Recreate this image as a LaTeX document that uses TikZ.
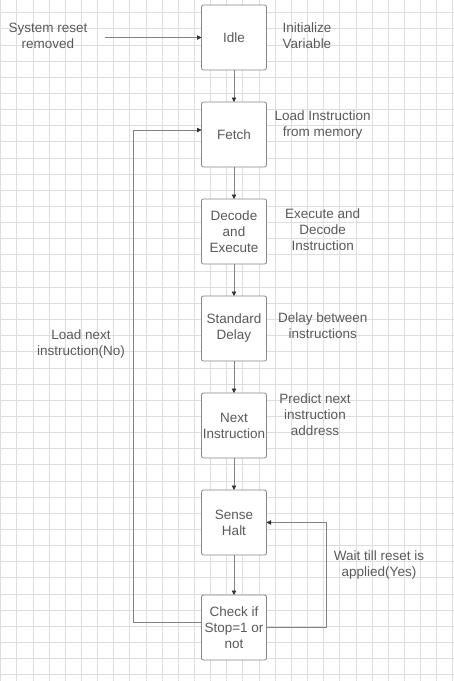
\documentclass[tikz,border=0pt]{standalone}
\usepackage{fontspec}
\setmainfont{Liberation Sans}
\usetikzlibrary{positioning,arrows.meta}
\definecolor{txtgray}{RGB}{90,90,90}
\definecolor{boxgray}{RGB}{135,135,135}
\definecolor{linegray}{RGB}{130,130,130}
\definecolor{headgray}{RGB}{50,50,50}
\definecolor{gridgray}{RGB}{222,222,222}

\begin{document}
\begin{tikzpicture}[x=1pt,y=1pt, line width=.8pt
  ]
% Styles
\tikzstyle{state}=[draw=boxgray,fill=white,rounded corners=2pt,minimum width=65pt,minimum height=65pt,inner sep=1pt,outer sep=0pt,align=center,text=txtgray,font=\fontsize{13.5}{16}\selectfont]
\tikzstyle{note}=[align=center,inner sep=0pt,text=txtgray,font=\fontsize{13.5}{16}\selectfont]
\tikzstyle{flow}=[draw=linegray,-{Triangle[length=4.5pt,width=4.5pt,color=headgray]}]
\tikzstyle{gridline}=[draw=gridgray,line width=.6pt]

\useasboundingbox[fill=white] (0,0) rectangle (454,-681);
% Background grid
\foreach \i in {0,...,28}
\draw[gridline] ({0.5+16.15*\i},0)--({0.5+16.15*\i},-681);
\foreach \j in {0,...,41}
\draw[gridline] (0,{-12.5-16.15*\j})--(454,{-12.5-16.15*\j});

% States
\node[state] (idle) at (234,-37.5) {Idle};
\node[state, below=32pt of idle] (fetch) {Fetch};
\node[state, below=32pt of fetch] (dec) {Decode\\and\\Execute};
\node[state, below=32pt of dec] (dly) {Standard\\Delay};
\node[state, below=32pt of dly] (nxt) {Next\\Instruction};
\node[state, below=32pt of nxt] (halt) {Sense\\Halt};
\node[state, below=40pt of halt] (chk) {Check if\\Stop=1 or\\not};

% Notes
\node[note] (rst) at (48,-36) {System reset\\removed};
\node[note] (init) at (307,-36) {Initialize\\Variable};
\node[note] (load) at (322.7,-125) {Load Instruction\\from memory};
\node[note] (exe) at (322.7,-230) {Execute and\\Decode\\Instruction};
\node[note] (dbi) at (322.7,-326) {Delay between\\instructions};
\node[note] (pred) at (315,-415) {Predict next\\instruction\\address};
\node[note] (wait) at (379,-565) {Wait till reset is\\applied(Yes)};
\node[note] (lnx) at (81,-344) {Load next\\instruction(No)};

% Connectors
\coordinate (src) at (105,-37.5);
\coordinate (lft) at (133.3,0);
\coordinate (rgt) at (326.7,0);
\draw[flow] (src)--(idle.west);
\foreach \a/\b in {idle/fetch,fetch/dec,dec/dly,dly/nxt,nxt/halt,halt/chk}
\draw[flow] (\a)--(\b);
\draw[flow] ([yshift=4.8pt]chk.west)--([yshift=4.8pt]chk.west-|lft)|-([yshift=4.5pt]fetch.west);
\draw[flow] (chk.east)--(chk.east-|rgt)|-(halt.east);
\end{tikzpicture}
\end{document}
